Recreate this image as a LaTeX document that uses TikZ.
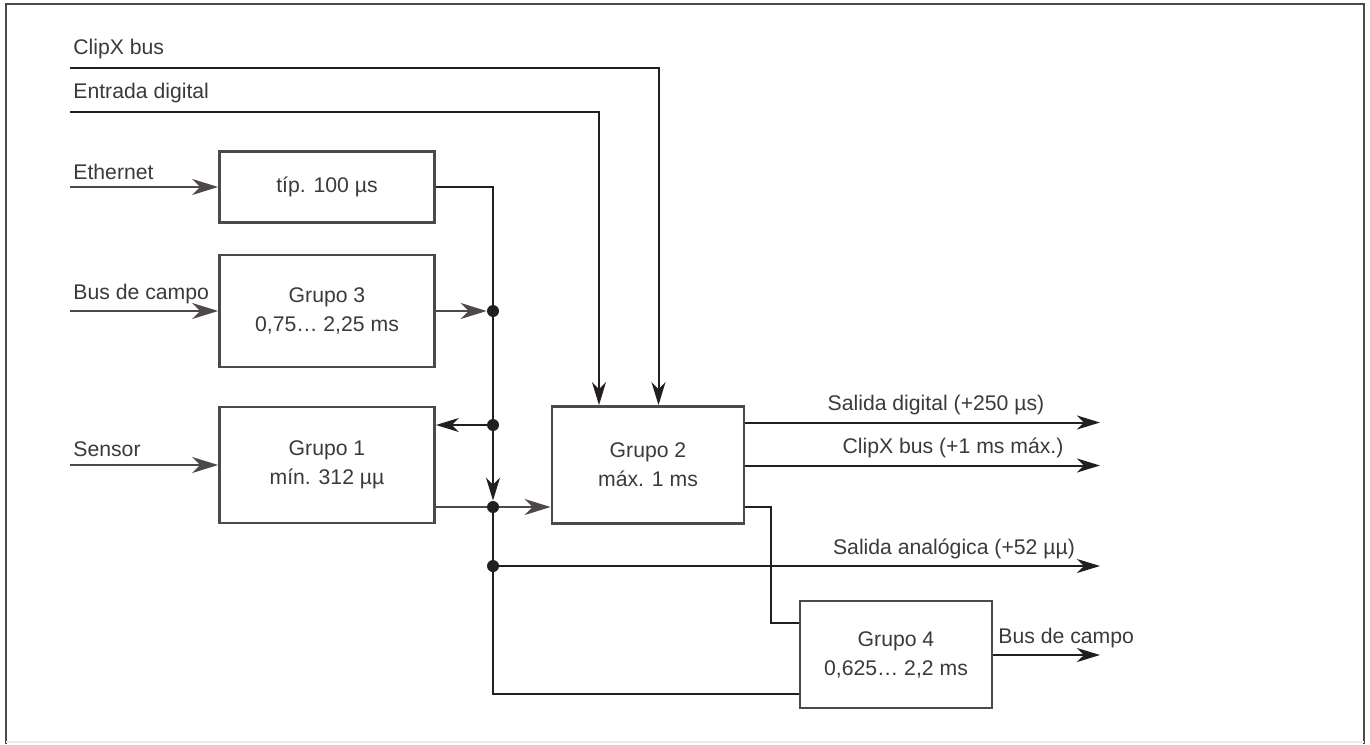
\documentclass[tikz,border=0pt]{standalone}
\usepackage{fontspec}
\setmainfont{Liberation Sans}
\usetikzlibrary{arrows.meta}
\definecolor{lineblk}{HTML}{231F20}
\definecolor{linegry}{HTML}{4D4849}
\definecolor{txtgry}{HTML}{3A3A3A}

\begin{document}
\begin{tikzpicture}[
    x=0.5pt, y=-0.5pt, % 1 unit = 1 px of the layout
    every node/.style={font=\fontsize{10.6}{14.5}\selectfont, text=txtgry},
    box/.style={draw=linegry, line width=1.4pt, align=center, inner sep=0pt,
                minimum width=107.5pt},
    wire/.style={draw=lineblk, line width=1pt},
    feed/.style={draw=linegry, line width=1pt},
    tip/.style={-{Stealth[length=11.5pt, width=7pt, inset=3.5pt]}},
    bigtip/.style={-{Stealth[length=13pt, width=8pt, inset=4pt]}},
    dot/.style={circle, fill=lineblk, inner sep=0pt, minimum size=6pt},
    lbl/.style={inner sep=0pt}
]

    % --- 1. FRAME ---
    \useasboundingbox (0,0) rectangle (1370,744);
    \draw[linegry, line width=1.2pt] (6,744) -- (6,4) -- (1364,4) -- (1364,744);
    \draw[black!8, line width=0.8pt] (6,742) -- (1364,742);

    % --- 2. BLOCKS ---
    \node[box, minimum height=35.5pt] (tipb) at (327,187) {típ. 100 µs};
    \node[box, minimum height=56pt]   (g3)   at (327,311) {Grupo 3\\0,75… 2,25 ms};
    \node[box, minimum height=58pt]   (g1)   at (327,465) {Grupo 1\\mín. 312 µµ};
    \node[box, minimum width=96pt, minimum height=58.5pt] (g2) at (648,465) {Grupo 2\\máx. 1 ms};
    \node[box, minimum width=96pt, minimum height=53.5pt] (g4) at (896,654.5) {Grupo 4\\0,625… 2,2 ms};

    % --- 3. JUNCTIONS AND FREE ENDS ---
    \node[dot] (j1) at (493,311) {};
    \node[dot] (j2) at (493,425) {};
    \node[dot] (j3) at (493,507) {};
    \node[dot] (j4) at (493,566) {};

    \coordinate (cxin)  at (70,68);
    \coordinate (edin)  at (70,112);
    \coordinate (ethin) at (70,187);
    \coordinate (bcin)  at (70,311);
    \coordinate (sein)  at (70,465);
    \coordinate (sdout) at (1100,422.5);
    \coordinate (cxout) at (1100,465.5);
    \coordinate (saout) at (1100,566);
    \coordinate (bcout) at (1100,655);
    \coordinate (bend)  at (771,623);
    \coordinate (low)   at (493,694);

    % --- 4. LABELS ---
    \node[lbl, anchor=west] (cxlbl)  at (73,49)  {ClipX bus};
    \node[lbl, anchor=west] (edlbl)  at (73,93)  {Entrada digital};
    \node[lbl, anchor=west] (ethlbl) at (73,172) {Ethernet};
    \node[lbl, anchor=west] (bclbl)  at (73,294) {Bus de campo};
    \node[lbl, anchor=west] (selbl)  at (73,449) {Sensor};
    \node[lbl] (sdlbl) at (936,405) {Salida digital (+250 µs)};
    \node[lbl] (cxolbl) at (953,448) {ClipX bus (+1 ms máx.)};
    \node[lbl] (salbl) at (954,549) {Salida analógica (+52 µµ)};
    \node[lbl, anchor=west] (bcolbl) at (998,638) {Bus de campo};

    % ==========================================
    % INPUTS
    % ==========================================
    \draw[wire, tip] (cxin) -| ([xshift=5.25pt]g2.north);
    \draw[wire, tip] (edin) -| ([xshift=-24.5pt]g2.north);
    \draw[feed, bigtip] (ethin) -- (tipb);
    \draw[feed, bigtip] (bcin) -- (g3);
    \draw[feed, bigtip] (sein) -- (g1);

    % ==========================================
    % BUS LINE
    % ==========================================
    \draw[wire, tip] (tipb.east) -| (j3.north);
    \draw[feed, bigtip] (g3.east) -- (j1.west);
    \draw[wire, tip] (j2) -- (g1.east |- j2);
    \draw[feed] (g1.east |- j3) -- (j3);
    \draw[feed, bigtip] (j3) -- (g2.west |- j3);
    \draw[wire] (j3) -- (j4);
    \draw[wire] (j4) |- (g4.west |- low);

    % ==========================================
    % OUTPUTS
    % ==========================================
    \draw[wire, tip] (g2.east |- sdout) -- (sdout);
    \draw[wire, tip] (g2.east |- cxout) -- (cxout);
    \draw[wire, tip] (j4) -- (saout);
    \draw[wire] (g2.east |- j3) -| (bend) -- (g4.west |- bend);
    \draw[wire, tip] (g4.east |- bcout) -- (bcout);

\end{tikzpicture}
\end{document}
